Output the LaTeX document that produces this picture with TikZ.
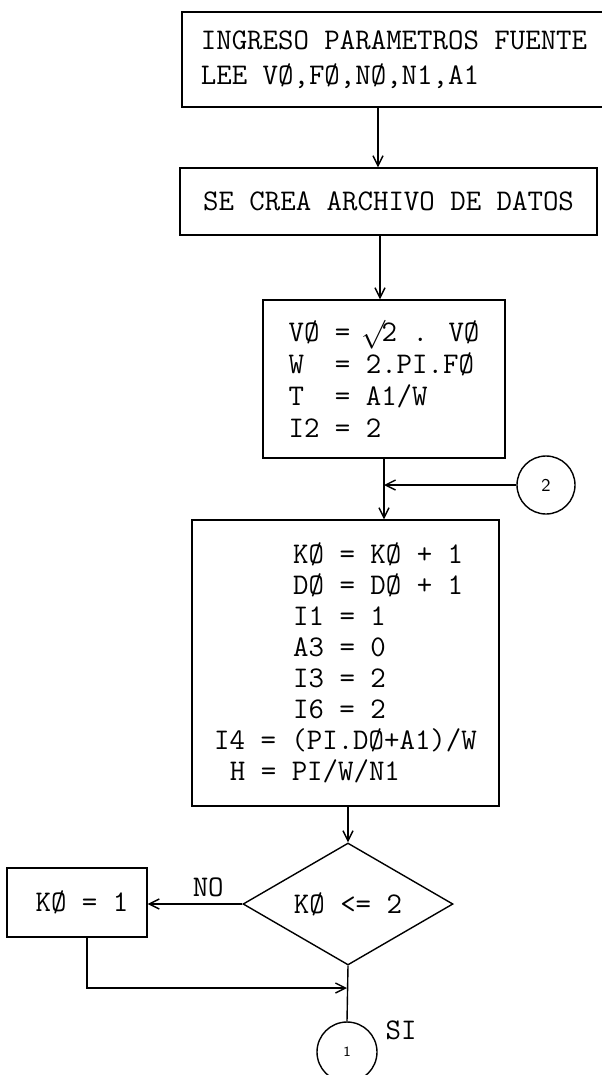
\documentclass[tikz,border=0pt]{standalone}
\usepackage{fontspec}
\usetikzlibrary{shapes.geometric,arrows.meta}
\begin{document}
\begin{tikzpicture}[x=.5pt,y=-.5pt,line width=.7pt,>={Straight Barb[length=5pt,width=5pt]},
  box/.style={draw,rectangle,inner sep=0pt,align=left,font=\ttfamily\fontsize{15}{15.5}\selectfont},
  cond/.style={draw,diamond,aspect=2,inner sep=0pt,minimum width=105pt,minimum height=61pt,font=\ttfamily\fontsize{15}{15.5}\selectfont},
  conn/.style={draw,circle,inner sep=0pt,font=\sffamily\fontsize{9}{10}\selectfont},
  lbl/.style={font=\ttfamily\fontsize{15}{15.5}\selectfont}]
\useasboundingbox (0,0) rectangle (601,1075);
% cajas del diagrama
\node[box,minimum width=212pt,minimum height=47.5pt] (ingreso) at (394,59.5) {INGRESO PARAMETROS FUENTE\\[2pt]LEE VØ,FØ,NØ,N1,A1};
\node[box,minimum width=208.5pt,minimum height=33.5pt] (archivo) at (388.5,201.5) {SE CREA ARCHIVO DE DATOS};
\node[box,minimum width=121pt,minimum height=79pt] (calculo) at (384,379)
  {VØ = \makebox[7.9pt]{$\surd$}2 . VØ\\[.5pt]W\ \ = 2.PI.FØ\\[.5pt]T\ \ = A1/W\\[.5pt]I2 = 2};
\node[box,minimum width=153.5pt,minimum height=143pt] (contador) at (345.5,663)
  {\hspace*{39.5pt}KØ = KØ + 1\\\hspace*{39.5pt}DØ = DØ + 1\\\hspace*{39.5pt}I1 = 1\\\hspace*{39.5pt}A3 = 0\\
   \hspace*{39.5pt}I3 = 2\\\hspace*{39.5pt}I6 = 2\\I4 = (PI.DØ+A1)/W\\\hspace*{7.9pt}H = PI/W/N1};
\node[cond] (decision) at (348,904) {KØ <= 2};
\node[box,minimum width=70pt,minimum height=34.5pt] (k1) at (77,902.5) {\hspace*{5pt}KØ = 1};
% conectores
\node[conn,minimum size=29pt] (c2) at (546,485) {2};
\node[conn,minimum size=30pt,font=\sffamily\fontsize{7}{8}\selectfont] (c1) at (347,1052) {1};
\coordinate (union) at (347,988);
\draw[->] ([xshift=-8pt]ingreso.south) -- ([xshift=-5.25pt]archivo.north);
\draw[->] ([xshift=-4.25pt]archivo.south) -- ([xshift=-2pt]calculo.north);
\draw[->] (calculo.south) -- (calculo.south |- contador.north);
\draw[->] (c2.west) -- (c2.west -| calculo.south);
\draw[->] (contador.south -| decision.north) -- (decision.north);
\draw[->] (decision.west) -- (decision.west -| k1.east) node[lbl,above,pos=.36] (no) {NO};
\draw[->] ([xshift=5pt]k1.south) |- (union);
\draw (decision.south) -- (c1.north);
\node[lbl] (si) at (401,1030) {SI};
\end{tikzpicture}
\end{document}
